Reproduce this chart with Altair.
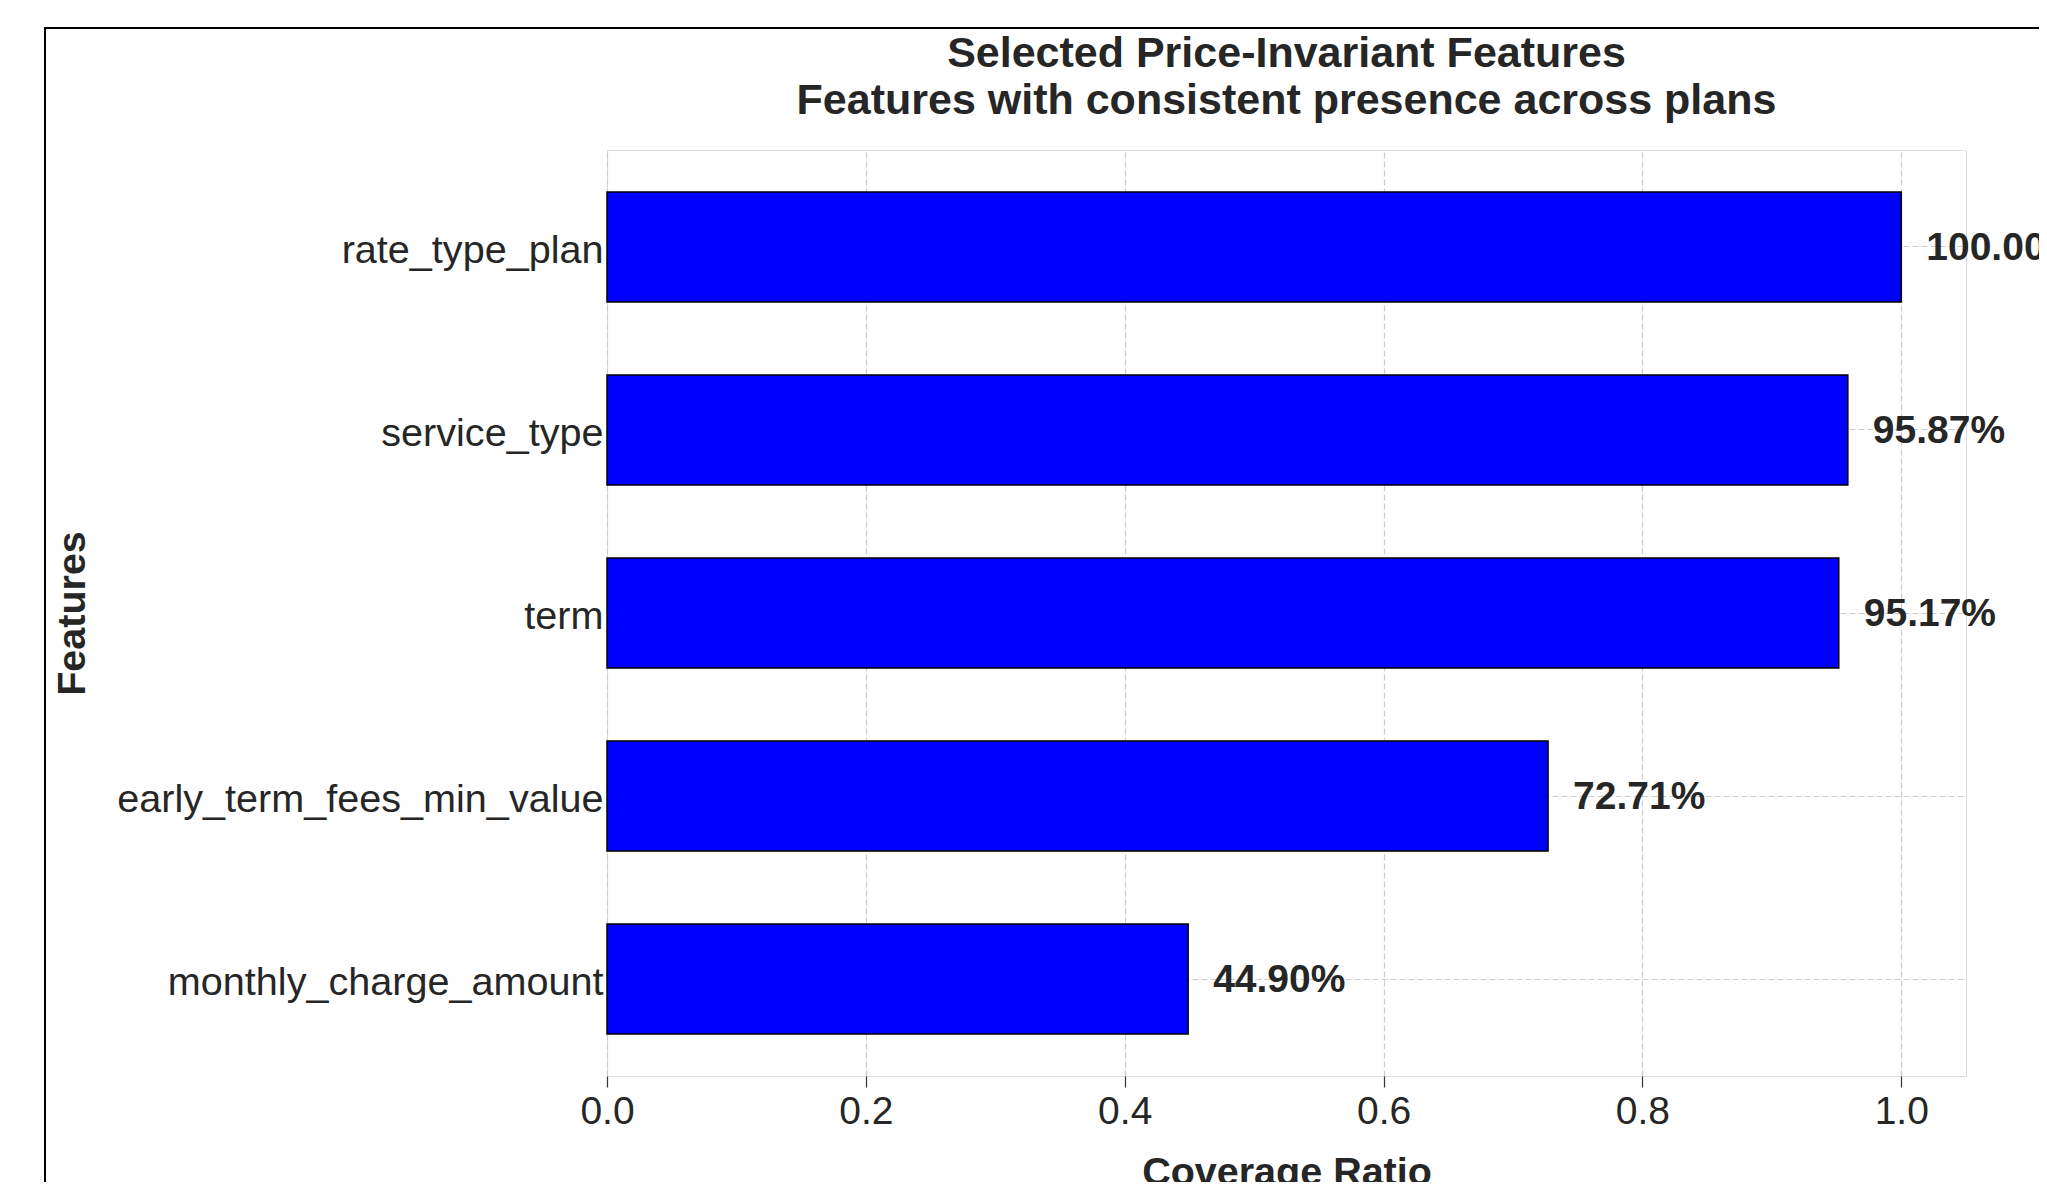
import altair as alt
import pandas as pd

features = ["rate_type_plan", "service_type", "term",
            "early_term_fees_min_value", "monthly_charge_amount"]
coverage = [1.0, 0.9587, 0.9517, 0.7271, 0.4490]
x_ticks = [0.0, 0.2, 0.4, 0.6, 0.8, 1.0]

df = pd.DataFrame({"feature": features, "coverage": coverage})
frame_df = pd.DataFrame({"k": [0]})

FONT = "Liberation Sans"
TXT = "#262626"

x_enc = alt.X("coverage:Q",
              scale=alt.Scale(domain=[0, 1.05], nice=False, zero=True),
              axis=alt.Axis(values=x_ticks, format=".1f", title="Coverage Ratio",
                            labelFontSize=39, labelColor=TXT, labelFont=FONT,
                            labelFlush=False,
                            titleFontSize=39.5, titleFontWeight="bold", titleColor=TXT,
                            titleFont=FONT, titlePadding=22, labelPadding=5,
                            tickSize=11, tickColor="#333333", tickWidth=1.2,
                            domain=False, grid=True, gridColor="#cccccc",
                            gridDash=[6, 3], gridWidth=1.2))
y_enc = alt.Y("feature:N", sort=features,
              scale=alt.Scale(paddingInner=0.4, paddingOuter=0.23),
              axis=alt.Axis(title="Features", labelFontSize=39.6, labelColor=TXT,
                            labelFont=FONT, labelPadding=4, labelLimit=1000,
                            labelOffset=4,
                            ticks=False, domain=False,
                            titleFontSize=39.5, titleFontWeight="bold", titleColor=TXT,
                            titleFont=FONT, titleX=-535, titleBaseline="middle",
                            grid=True, gridColor="#cccccc", gridDash=[6, 3],
                            gridWidth=1.2, bandPosition=0.5))

base = alt.Chart(df)

bars = base.mark_bar(color="#0000ff", stroke="black", strokeWidth=1.5).encode(
    x=x_enc, y=y_enc)

labels = base.mark_text(align="left", baseline="middle", dx=25, dy=1, fontSize=39,
                        fontWeight="bold", font=FONT, color=TXT).encode(
    x="coverage:Q", y=alt.Y("feature:N", sort=features),
    text=alt.Text("coverage:Q", format=".2%"))

frame_left = alt.Chart(frame_df).mark_rule(color="black", strokeWidth=2).encode(
    x=alt.value(-562), y=alt.value(-122), y2=alt.value(1200))
frame_top = alt.Chart(frame_df).mark_rule(color="black", strokeWidth=2).encode(
    x=alt.value(-563), x2=alt.value(1600), y=alt.value(-122))

chart = alt.layer(bars, labels, frame_left, frame_top).properties(
    width=1359, height=926,
    title=alt.TitleParams(
        text=["Selected Price-Invariant Features",
              "Features with consistent presence across plans"],
        fontSize=43, fontWeight="bold", font=FONT, color=TXT,
        anchor="middle", lineHeight=47, offset=22, dy=118),
    autosize=alt.AutoSizeParams(type="none"),
    padding={"left": 599, "top": 142, "right": 73, "bottom": 106},
).configure_view(
    fill="#f7f7f7", stroke="#d9d9d9", strokeWidth=1.5
).configure(background="white")

chart.save("out.html", embed_options={"renderer": "svg", "actions": False})
